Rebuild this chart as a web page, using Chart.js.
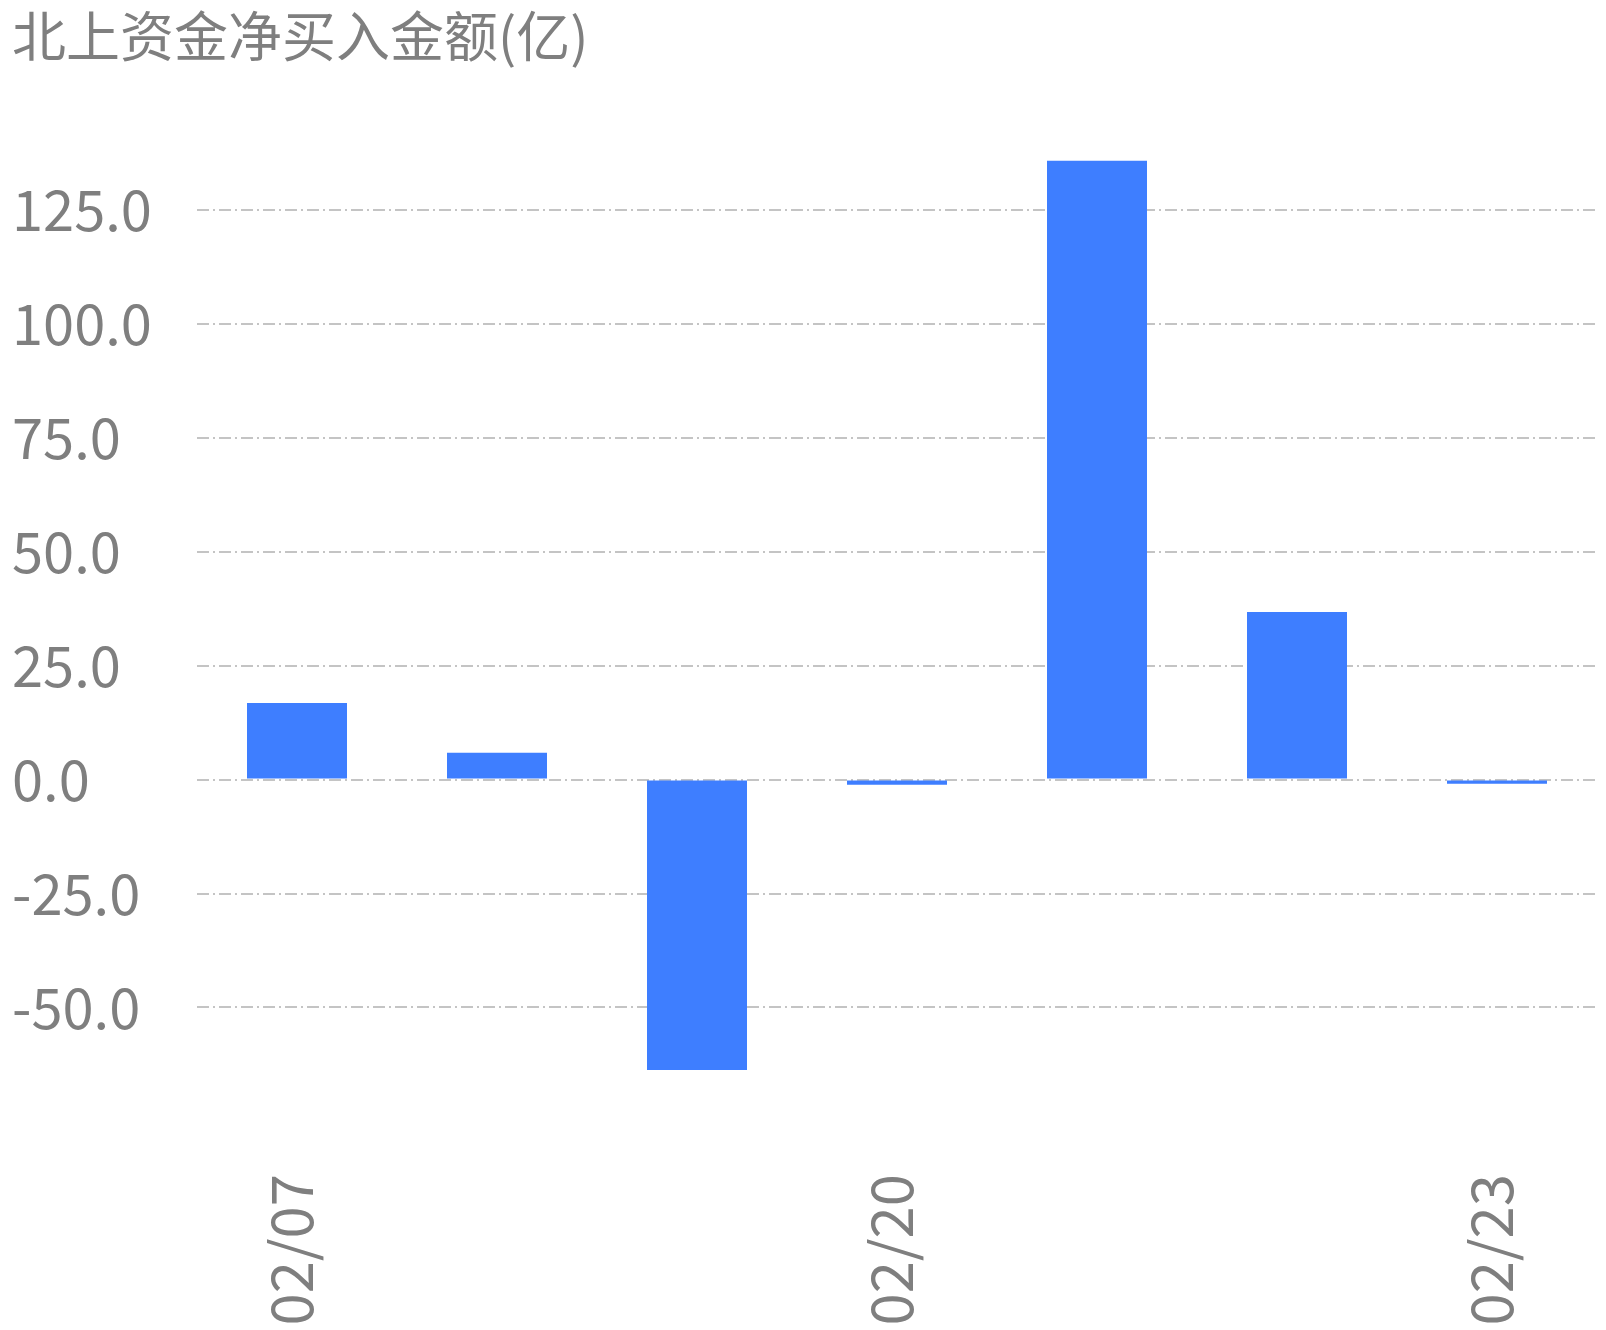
<!DOCTYPE html>
<html>
<head>
<meta charset="utf-8">
<script src="https://cdn.jsdelivr.net/npm/chart.js@4"></script>
<style>
  body { margin: 0; background: #fff; }
</style>
</head>
<body>
<canvas id="flowChart" width="1606" height="1330"></canvas>
<script>
// 北上资金 daily net buy (亿)
const dates = ['02/07', '02/08', '02/19', '02/20', '02/21', '02/22', '02/23'];
const netBuy = [16.8, 5.9, -63.7, -1.1, 135.8, 36.8, -0.9];
const shownDates = ['02/07', '02/20', '02/23'];

const gray = '#7f7f7f';
const fontFamily = '"Noto Sans CJK SC", "Noto Sans", sans-serif';

const ctx = document.getElementById('flowChart').getContext('2d');
new Chart(ctx, {
    type: 'bar',
    data: {
        labels: dates,
        datasets: [{
            data: netBuy,
            backgroundColor: '#3e7eff',
            barPercentage: 0.5,
            categoryPercentage: 1,
        }],
    },
    options: {
        responsive: false,
        animation: false,
        layout: { padding: { left: 12, right: 9, top: 0, bottom: 0 } },
        plugins: {
            legend: { display: false },
            tooltip: { enabled: false },
            title: {
                display: true,
                text: '北上资金净买入金额(亿)',
                align: 'start',
                color: gray,
                font: { family: fontFamily, size: 54, weight: 'normal' },
                padding: { top: 4, bottom: 61 },
            },
        },
        scales: {
            x: {
                grid: { display: false, drawTicks: false },
                border: { display: false },
                afterFit: scale => {
                    scale.height = 220;
                    scale.paddingLeft = 0;
                    scale.paddingRight = 0;
                },
                ticks: {
                    autoSkip: false,
                    minRotation: 90,
                    maxRotation: 90,
                    padding: 64,
                    labelOffset: -6,
                    color: gray,
                    font: { family: fontFamily, size: 58 },
                    callback: function (value) {
                        const label = this.getLabelForValue(value);
                        return shownDates.includes(label) ? label : '';
                    },
                },
            },
            y: {
                min: -72.5,
                max: 142.6,
                z: 1,
                // dash-dot grid lines (v4 reads the grid dash from border)
                border: { display: false, dash: [12, 4, 2, 4] },
                afterFit: scale => { scale.width = 185; },
                grid: {
                    color: '#c4c4c4',
                    lineWidth: 2,
                    drawTicks: false,
                },
                ticks: {
                    stepSize: 25,
                    includeBounds: false,
                    crossAlign: 'far',
                    color: gray,
                    font: { family: fontFamily, size: 56 },
                    callback: v => v.toFixed(1),
                },
            },
        },
    },
});
</script>
</body>
</html>
